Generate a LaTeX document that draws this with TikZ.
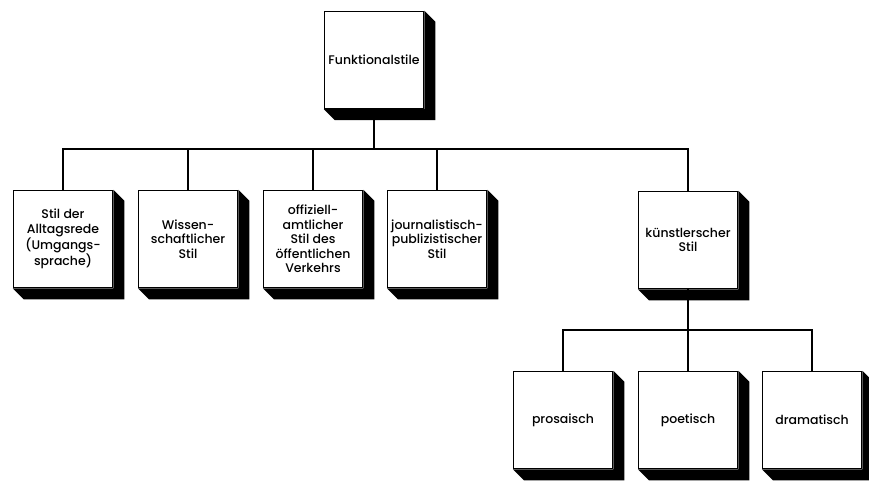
\documentclass[tikz,border=0pt]{standalone}
\usepackage{fontspec}
\setmainfont{Poppins}[UprightFont=* Medium]

\begin{document}
\begin{tikzpicture}[x=1pt,y=-1pt]
\tikzset{stil/.style = {shape=rectangle,draw,line width=1.5pt,fill=white,minimum width=99pt,minimum height=97pt,align=center,inner sep=1pt,font=\fontsize{12.5}{14.5}\selectfont}}
\tikzset{ast/.style = {line width=1.2pt}}
\tikzset{schatten/.style = {fill=black}}
\useasboundingbox (0,0) rectangle (869,481);
% boxes
\node[stil] (top) at (374,60) {Funktionalstile};
\node[stil] (b1) at (63,239) {Stil der\\Alltagsrede\\(Umgangs-\\sprache)};
\node[stil] (b2) at (188,239) {Wissen-\\schaftlicher\\Stil};
\node[stil] (b3) at (313,239) {offiziell-\\amtlicher\\Stil des\\öffentlichen\\Verkehrs};
\node[stil] (b4) at (437,239) {journalistisch-\\publizistischer\\Stil};
\node[stil] (b5) at (688,240) {künstlerscher\\Stil};
\node[stil] (b6) at (563,420) {prosaisch};
\node[stil] (b7) at (688,420) {poetisch};
\node[stil] (b8) at (812,420) {dramatisch};
% shadows
\foreach \n in {top,b1,b2,b3,b4,b5,b6,b7,b8}
  \fill[schatten] (\n.north east) -- ++(11,11) -- ([shift={(11,11)}]\n.south east)
    -- ([shift={(11,11)}]\n.south west) -- (\n.south west) -- (\n.south east) -- cycle;
%edges
\coordinate (j1) at (374,149);
\coordinate (j2) at (688,330);
\draw[ast] (top) -- (j1);
\foreach \n in {b1,b2,b3,b4,b5}
  \draw[ast] (\n.north) |- (j1);
\draw[ast] (b5) -- (j2);
\foreach \n in {b6,b7,b8}
  \draw[ast] (\n.north) |- (j2);

\end{tikzpicture}
\end{document}
